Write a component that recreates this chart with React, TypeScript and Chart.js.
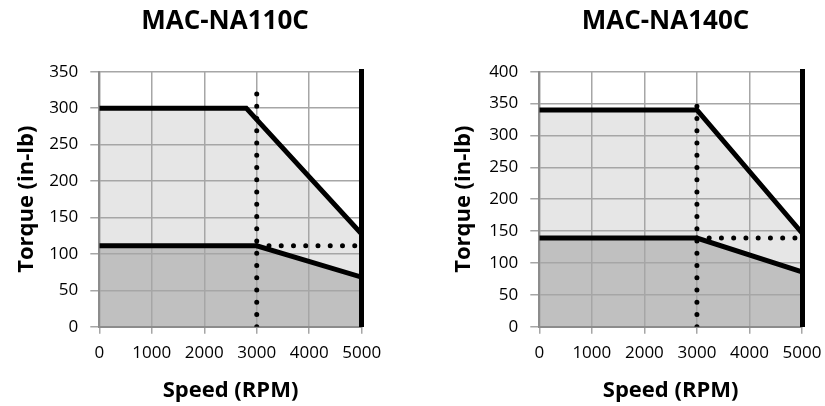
import React, { useEffect, useRef } from 'react';
import { Chart, registerables } from 'chart.js';

Chart.register(...registerables);

const FONT = "'Open Sans', 'DejaVu Sans', sans-serif";

// Shared axis values
const speedMin = 0;
const speedMax = 5000;
const speedStep = 1000;
const torqueStep = 50;

// MAC-NA110C
const na110Title = 'MAC-NA110C';
const na110TorqueMax = 350;
const na110PeakSpeed = [0, 2800, 5000];
const na110PeakTorque = [300, 300, 127];
const na110ContSpeed = [0, 3000, 5000];
const na110ContTorque = [111, 111, 68];
const na110RatedLineSpeed = [3000, 3000];
const na110RatedLineTorque = [0, 320];
const na110ContLineSpeed = [3000, 5000];
const na110ContLineTorque = [111, 111];

// MAC-NA140C
const na140Title = 'MAC-NA140C';
const na140TorqueMax = 400;
const na140PeakSpeed = [0, 3000, 5000];
const na140PeakTorque = [340, 340, 147];
const na140ContSpeed = [0, 3000, 5000];
const na140ContTorque = [139, 139, 86];
const na140RatedLineSpeed = [3000, 3000];
const na140RatedLineTorque = [0, 365];
const na140ContLineSpeed = [3000, 5000];
const na140ContLineTorque = [139, 139];

const xTitle = 'Speed (RPM)';
const yTitle = 'Torque (in-lb)';

type Spec = {
  title: string;
  torqueMax: number;
  peakSpeed: number[];
  peakTorque: number[];
  contSpeed: number[];
  contTorque: number[];
  ratedSpeed: number[];
  ratedTorque: number[];
  limitSpeed: number[];
  limitTorque: number[];
};

const specs: Spec[] = [
  {
    title: na110Title,
    torqueMax: na110TorqueMax,
    peakSpeed: na110PeakSpeed,
    peakTorque: na110PeakTorque,
    contSpeed: na110ContSpeed,
    contTorque: na110ContTorque,
    ratedSpeed: na110RatedLineSpeed,
    ratedTorque: na110RatedLineTorque,
    limitSpeed: na110ContLineSpeed,
    limitTorque: na110ContLineTorque,
  },
  {
    title: na140Title,
    torqueMax: na140TorqueMax,
    peakSpeed: na140PeakSpeed,
    peakTorque: na140PeakTorque,
    contSpeed: na140ContSpeed,
    contTorque: na140ContTorque,
    ratedSpeed: na140RatedLineSpeed,
    ratedTorque: na140RatedLineTorque,
    limitSpeed: na140ContLineSpeed,
    limitTorque: na140ContLineTorque,
  },
];

type Layout = {
  left: number;
  width: number;
  yAxisWidth: number;
  rightWidth: number;
  yTitlePad: number;
};

const layouts: Layout[] = [
  { left: 0, width: 450, yAxisWidth: 99.3, rightWidth: 88.3, yTitlePad: 13.8 },
  { left: 412, width: 507, yAxisWidth: 127.3, rightWidth: 117, yTitlePad: 38.2 },
];

const HEIGHT = 406;

function TorqueChart({ spec, layout }: { spec: Spec; layout: Layout }) {
  const ref = useRef<HTMLCanvasElement>(null);

  useEffect(() => {
    const pts = (xs: number[], ys: number[]) => xs.map((x, i) => ({ x, y: ys[i] }));
    const dotted = {
      borderColor: '#000',
      borderWidth: 5,
      borderDash: [0, 12.25],
      borderCapStyle: 'round' as const,
      fill: false,
      pointRadius: 0,
      tension: 0,
    };
    const chart = new Chart(ref.current as HTMLCanvasElement, {
      type: 'line',
      data: {
        datasets: [
          {
            label: 'Continuous',
            data: pts(spec.contSpeed, spec.contTorque),
            borderColor: '#000',
            borderWidth: 5,
            backgroundColor: '#c0c0c0',
            fill: 'origin',
            pointRadius: 0,
            tension: 0,
          },
          {
            label: 'Peak',
            data: pts(spec.peakSpeed, spec.peakTorque),
            borderColor: '#000',
            borderWidth: 5,
            backgroundColor: '#e6e6e6',
            fill: 'origin',
            pointRadius: 0,
            tension: 0,
          },
          { label: 'Rated speed', data: pts(spec.ratedSpeed, spec.ratedTorque), ...dotted },
          { label: 'Continuous limit', data: pts(spec.limitSpeed, spec.limitTorque), ...dotted },
        ],
      },
      options: {
        responsive: false,
        animation: false,
        events: [],
        layout: { padding: 0 },
        plugins: {
          legend: { display: false },
          tooltip: { enabled: false },
          filler: { drawTime: 'beforeDraw' },
          title: {
            display: true,
            text: spec.title,
            color: '#000',
            fullSize: true,
            font: { family: FONT, size: 26, weight: 'bold', lineHeight: 1.2 },
            padding: { top: 5.9, bottom: 34.6 },
          },
        },
        scales: {
          x: {
            type: 'linear',
            min: speedMin,
            max: speedMax,
            ticks: {
              stepSize: speedStep,
              color: '#000',
              padding: 9.4,
              font: { family: FONT, size: 17 },
              format: { useGrouping: false },
            },
            grid: { color: '#a6a6a6', lineWidth: 1.5, tickLength: 7 },
            border: { color: '#8c8c8c', width: 2 },
            title: {
              display: true,
              text: xTitle,
              color: '#000',
              font: { family: FONT, size: 22, weight: 'bold', lineHeight: 1.2 },
              padding: { top: 0, bottom: 2.3 },
            },
            afterFit: (s: any) => {
              s.height = 79.3;
            },
          },
          y: {
            type: 'linear',
            position: 'left',
            min: 0,
            max: spec.torqueMax,
            ticks: {
              stepSize: torqueStep,
              color: '#000',
              padding: 12,
              font: { family: FONT, size: 17 },
              format: { useGrouping: false },
            },
            grid: { color: '#a6a6a6', lineWidth: 1.5, tickLength: 9 },
            border: { color: '#8c8c8c', width: 2 },
            title: {
              display: true,
              text: yTitle,
              color: '#000',
              font: { family: FONT, size: 22, weight: 'bold', lineHeight: 1.2 },
              padding: { top: layout.yTitlePad, bottom: 0 },
            },
            afterFit: (s: any) => {
              s.width = layout.yAxisWidth;
            },
          },
          yRight: {
            type: 'linear',
            position: 'right',
            min: 0,
            max: spec.torqueMax,
            ticks: { display: false },
            grid: { display: false },
            border: { display: true, color: '#000', width: 5 },
            afterFit: (s: any) => {
              s.width = layout.rightWidth;
            },
          },
        },
      },
    } as any);
    return () => chart.destroy();
  }, [spec, layout]);

  return (
    <canvas
      ref={ref}
      width={layout.width}
      height={HEIGHT}
      style={{ position: 'absolute', left: layout.left, top: 0, width: layout.width, height: HEIGHT }}
    />
  );
}

export default function App() {
  return (
    <div
      style={{
        position: 'absolute',
        left: 0,
        top: 0,
        width: 825,
        height: HEIGHT,
        overflow: 'hidden',
        background: '#fff',
      }}
    >
      {specs.map((s, i) => (
        <TorqueChart key={s.title} spec={s} layout={layouts[i]} />
      ))}
    </div>
  );
}
